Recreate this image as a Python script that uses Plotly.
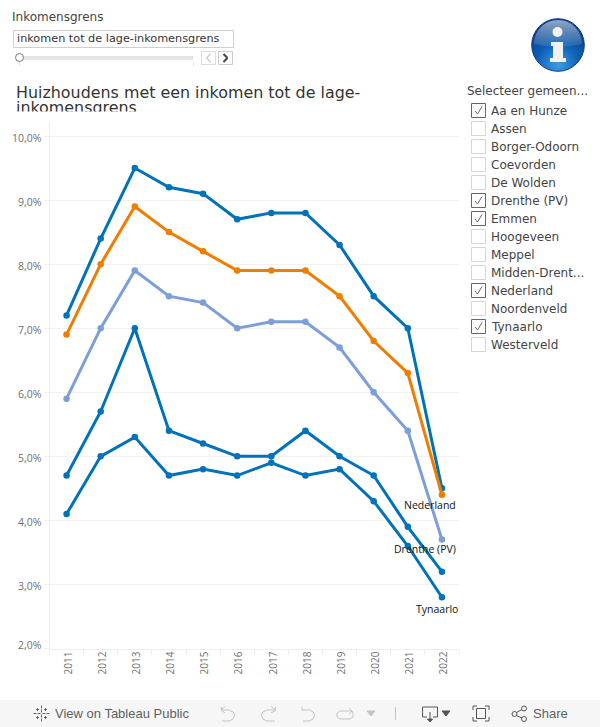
import base64
import plotly.graph_objects as go

W, H = 600, 727
years = ["2011", "2012", "2013", "2014", "2015", "2016", "2017", "2018", "2019", "2020", "2021", "2022"]
emmen = [7.2, 8.4, 9.5, 9.2, 9.1, 8.7, 8.8, 8.8, 8.3, 7.5, 7.0, 4.5]
nederland = [6.9, 8.0, 8.9, 8.5, 8.2, 7.9, 7.9, 7.9, 7.5, 6.8, 6.3, 4.4]
drenthe = [5.9, 7.0, 7.9, 7.5, 7.4, 7.0, 7.1, 7.1, 6.7, 6.0, 5.4, 3.7]
aa_en_hunze = [4.7, 5.7, 7.0, 5.4, 5.2, 5.0, 5.0, 5.4, 5.0, 4.7, 3.9, 3.2]
tynaarlo = [4.1, 5.0, 5.3, 4.7, 4.8, 4.7, 4.9, 4.7, 4.8, 4.3, 3.6, 2.8]
y_ticks = [2, 3, 4, 5, 6, 7, 8, 9, 10]
y_labels = ["", "3,0%", "4,0%", "5,0%", "6,0%", "7,0%", "8,0%", "9,0%", "10,0%"]
y_bottom_label = "2,0%"
gemeenten = ["Aa en Hunze", "Assen", "Borger-Odoorn", "Coevorden", "De Wolden", "Drenthe (PV)", "Emmen",
             "Hoogeveen", "Meppel", "Midden-Drent...", "Nederland", "Noordenveld", "Tynaarlo", "Westerveld"]
checked = ["Aa en Hunze", "Drenthe (PV)", "Emmen", "Nederland", "Tynaarlo"]
series = [
    ("Tynaarlo", tynaarlo, "#0072b9"),
    ("Aa en Hunze", aa_en_hunze, "#0072b9"),
    ("Drenthe (PV)", drenthe, "#7c9fd9"),
    ("Emmen", emmen, "#0072b9"),
    ("Nederland", nederland, "#f07d00"),
]
end_labels = [("Nederland", nederland[-1], 14, -10), ("Drenthe (PV)", drenthe[-1], 14, -9), ("Tynaarlo", tynaarlo[-1], 16, -12)]

DJ = "DejaVu Sans"
TICK = "#707070"


def px(x):
    return x / W


def py(y):
    return 1 - y / H


fig = go.Figure()
for name, vals, col in series:
    fig.add_trace(go.Scatter(x=years, y=vals, name=name, mode="lines+markers",
                             line=dict(color=col, width=3), marker=dict(color=col, size=6.5),
                             showlegend=False))

shapes, ann = [], []


def rect(x0, y0, x1, y1, fill=None, line=None, lw=1):
    shapes.append(dict(type="rect", xref="paper", yref="paper", x0=px(x0), x1=px(x1), y0=py(y0), y1=py(y1),
                       fillcolor=fill or "rgba(0,0,0,0)", line=dict(color=line or "rgba(0,0,0,0)", width=lw if line else 0),
                       layer="below"))


def seg(x0, y0, x1, y1, col="#888888", lw=1):
    shapes.append(dict(type="line", xref="paper", yref="paper", x0=px(x0), x1=px(x1), y0=py(y0), y1=py(y1),
                       line=dict(color=col, width=lw), layer="below"))


def circ(cx, cy, r, fill=None, line=None, lw=1):
    shapes.append(dict(type="circle", xref="paper", yref="paper", x0=px(cx - r), x1=px(cx + r), y0=py(cy - r), y1=py(cy + r),
                       fillcolor=fill or "rgba(0,0,0,0)", line=dict(color=line or "rgba(0,0,0,0)", width=lw if line else 0),
                       layer="below"))


def txt(x, y, s, size=12, col="#333333", font=DJ, anchor="left", **kw):
    ann.append(dict(xref="paper", yref="paper", x=px(x), y=py(y), text=s, showarrow=False, xanchor=anchor, yanchor="middle",
                    borderpad=0, borderwidth=0, font=dict(family=font, size=size, color=col), **kw))


# parameter control
txt(12, 17.5, "Inkomensgrens", 12, "#444444")
rect(13.5, 30.5, 233.5, 47.5, "#ffffff", "#cfcfcf")
txt(17, 38, "inkomen tot de lage-inkomensgrens", 11.25, "#333333")
rect(19, 56, 193, 60, "#e6e6e6")
seg(19.5, 62, 19.5, 66, "#e6e6e6")
seg(193.5, 62, 193.5, 66, "#e6e6e6")
circ(19.5, 57.5, 4, "#ffffff", "#777777")
rect(201.5, 51.5, 215.5, 64.5, "#ffffff", "#dddddd")
rect(218.5, 51.5, 232.5, 64.5, "#ffffff", "#cccccc")
seg(210.5, 54, 206.5, 58, "#cccccc", 1.5)
seg(206.5, 58, 210.5, 62, "#cccccc", 1.5)
seg(223.5, 54, 227.5, 58, "#444444", 2)
seg(227.5, 58, 223.5, 62, "#444444", 2)

# title, second line clipped as in the reference
txt(16, 92.5, "Huizhoudens met een inkomen tot de lage-", 15.9, "#333333")
txt(16, 108, "inkomensgrens", 15.9, "#333333")
ann.append(dict(xref="paper", yref="paper", x=px(10), y=py(111.5), text=" ", showarrow=False, xanchor="left", yanchor="top",
                width=200, height=10, bgcolor="#ffffff", borderpad=0, font=dict(size=6)))

# info icon
svg = """<svg xmlns='http://www.w3.org/2000/svg' width='54' height='54' viewBox='0 0 54 54'>
<defs><radialGradient id='g' cx='50%' cy='88%' r='75%'><stop offset='0' stop-color='#3f9be6'/><stop offset='0.55' stop-color='#0d5fb5'/><stop offset='1' stop-color='#0a3f86'/></radialGradient>
<linearGradient id='h' x1='0' y1='0' x2='0' y2='1'><stop offset='0' stop-color='#ffffff' stop-opacity='.55'/><stop offset='1' stop-color='#ffffff' stop-opacity='.08'/></linearGradient></defs>
<circle cx='27' cy='27' r='26.3' fill='url(#g)' stroke='#0b3f85' stroke-width='1'/>
<path d='M3 26 A24 24 0 0 1 51 26 Q27 32 3 26Z' fill='url(#h)'/>
<circle cx='26.5' cy='14' r='5' fill='#f2f2f2'/>
<path d='M20 24 H32 V40 H35 V44 H19 V40 H22 V28 H20Z' fill='#f2f2f2'/></svg>"""
uri = "data:image/svg+xml;base64," + base64.b64encode(svg.encode()).decode()
images = [dict(source=uri, xref="paper", yref="paper", x=px(531), y=py(18), sizex=54 / W, sizey=54 / H,
               xanchor="left", yanchor="top", sizing="stretch", layer="above")]

# filter list
txt(467, 90.5, "Selecteer gemeen...", 12, "#444444")
for i, g in enumerate(gemeenten):
    yc = 110.5 + i * 18
    on = g in checked
    rect(471.5, yc - 7, 485.5, yc + 7, "#ffffff", "#666666" if on else "#d6d6d6")
    if on:
        seg(475, yc + 0.5, 477.5, yc + 3.5, "#666666", 1)
        seg(477.5, yc + 3.5, 482, yc - 4, "#666666", 1)
    txt(491, yc + 0.3, g, 12, "#444444")

# bottom toolbar
rect(0, 700, 600, 727, "#f6f6f6")
for cx, cy, r in [(41.5, 713.5, 8), (41.5, 713.5, 4)]:
    seg(cx - r, cy, cx - r + 3, cy, "#666666", 1)
    seg(cx + r - 3, cy, cx + r, cy, "#666666", 1)
    seg(cx, cy - r, cx, cy - r + 3, "#666666", 1)
    seg(cx, cy + r - 3, cx, cy + r, "#666666", 1)
for dx, dy in [(-4, -4), (4, -4), (-4, 4), (4, 4)]:
    seg(41.5 + dx - 1.5, 713.5 + dy, 41.5 + dx + 1.5, 713.5 + dy, "#666666", 1)
    seg(41.5 + dx, 713.5 + dy - 1.5, 41.5 + dx, 713.5 + dy + 1.5, "#666666", 1)
txt(55, 713.5, "View on Tableau Public", 13, "#5f5f5f", "Liberation Sans")


def path(d, col="#c4c4c4", fill=None, lw=1):
    shapes.append(dict(type="path", xref="paper", yref="paper", path=d, line=dict(color=col, width=lw),
                       fillcolor=fill or "rgba(0,0,0,0)", layer="below"))


def P(*pts, close=False):
    return "M" + " L".join(f"{px(x):.5f},{py(y):.5f}" for x, y in pts) + (" Z" if close else "")


# undo / redo / revert / refresh icons
path(P((221, 707), (222, 710), (229, 710), (233, 712), (235, 715), (233, 719), (229, 721), (222, 721)))
path(P((221, 710), (225, 706.5)))
path(P((221, 710), (225, 713)))
path(P((276, 707), (275, 710), (267, 710), (263, 712), (261, 715), (263, 719), (267, 721), (275, 721)))
path(P((276, 710), (271, 706.5)))
path(P((276, 710), (271, 713)))
path(P((302, 707), (302, 710), (310, 710), (313, 712), (315, 715), (313, 719), (309, 721), (303, 721)))
path(P((352, 711), (340, 711), (337, 713), (337, 717), (340, 719), (350, 719), (353, 717), (353, 713), (352, 711)))
path(P((349, 708), (352, 711), (349, 714)))
path(P((367, 711), (375, 711), (371, 716), close=True), "#c4c4c4", "#c4c4c4")
seg(395.5, 707, 395.5, 720, "#c4c4c4", 1)
# download
path(P((427, 717), (422.5, 717), (422.5, 707), (437.5, 707), (437.5, 717), (433, 717)), "#555555")
seg(430, 712, 430, 721, "#555555", 1)
path(P((427.5, 719), (432.5, 719), (430, 722), close=True), "#555555", "#555555")
path(P((442, 711), (450, 711), (446, 716), close=True), "#555555", "#555555")
# fullscreen
rect(476.5, 708.5, 485.5, 718.5, None, "#555555")
for a, b in [((473, 710), (473, 706)), ((473, 706), (477, 706)), ((485, 706), (489, 706)), ((489, 706), (489, 710)),
             ((473, 717), (473, 721)), ((473, 721), (477, 721)), ((485, 721), (489, 721)), ((489, 721), (489, 717))]:
    seg(a[0], a[1], b[0], b[1], "#555555", 1)
# share
circ(514.5, 714, 2.5, None, "#555555")
circ(524, 708.5, 2.5, None, "#555555")
circ(524, 719, 2.5, None, "#555555")
seg(516.5, 712.5, 522, 709.5, "#555555", 1)
seg(516.5, 715.5, 522, 718, "#555555", 1)
txt(533, 713.5, "Share", 13, "#5f5f5f", "Liberation Sans")

# end-of-line labels (x is the category's serial number on a category axis)
last = len(years) - 1
for s, v, dx, dy in end_labels:
    ann.append(dict(x=last, y=v, xref="x", yref="y", text=s, showarrow=False, xanchor="right", yanchor="middle",
                    xshift=dx, yshift=dy, borderpad=0, borderwidth=0,
                    font=dict(family="Open Sans", size=10.5, color="#111111")))

# the lowest y label sits above its gridline in the reference
ann.append(dict(x=px(42), xref="paper", y=y_ticks[0], yref="y", text=y_bottom_label, showarrow=False, xanchor="right",
                yanchor="middle", yshift=4, borderpad=0, borderwidth=0,
                font=dict(family="Open Sans", size=10.5, color=TICK)))

fig.update_layout(
    width=W, height=H, autosize=False, margin=dict(l=0, r=0, t=0, b=0, autoexpand=False), paper_bgcolor="#ffffff", plot_bgcolor="#ffffff",
    shapes=shapes, annotations=ann, images=images,
    xaxis=dict(domain=[px(49.5), px(459)], type="category", range=[-0.5, 11.5], tickson="boundaries", ticks="outside",
               ticklen=5, tickcolor="#eeeeee", tickangle=-90, showgrid=False, zeroline=False, showline=True, automargin=False,
               ticklabelshift=2, ticklabelstandoff=-2,
               linecolor="#eeeeee", tickfont=dict(family="Open Sans", size=10, color=TICK), fixedrange=True),
    yaxis=dict(domain=[py(648.5), py(115)], range=[2, 10 + 21 / 64], tickvals=y_ticks, ticktext=y_labels, ticks="outside",
               ticklen=5, tickcolor="#f0f0f0", gridcolor="#f2f2f2", showline=True, linecolor="#eeeeee", zeroline=False, automargin=False,
               ticklabelshift=2,
               tickfont=dict(family="Open Sans", size=10.5, color=TICK), fixedrange=True),
)
fig.write_html("out.html", config={"displayModeBar": False, "responsive": False},
               default_width="600px", default_height="727px",
               post_script="document.body.style.margin='0';document.documentElement.style.overflow='hidden';")
